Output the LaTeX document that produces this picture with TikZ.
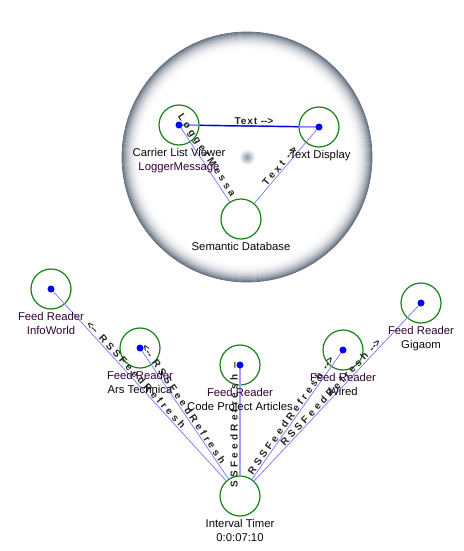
\documentclass[tikz,border=0pt]{standalone}
\usepackage{fontspec}
\setmainfont{Liberation Sans}
\newfontfamily\edgefont[LetterSpace=32]{Liberation Sans}
\newfontfamily\edgefonttight[LetterSpace=9]{Liberation Sans}

\definecolor{nodegreen}{RGB}{20,130,20}
\definecolor{dotblue}{RGB}{0,0,255}
\definecolor{edgeblue}{RGB}{130,130,255}
\definecolor{edgedark}{RGB}{0,0,210}
\definecolor{edgetext}{RGB}{35,35,35}
\definecolor{lblblack}{RGB}{10,5,15}
\definecolor{lblpurple}{RGB}{50,0,55}
\definecolor{ringdark}{RGB}{98,111,127}
\definecolor{hubgrey}{RGB}{140,152,166}

% blurred hub in the middle of the disc
\pgfdeclareradialshading{hubshade}{\pgfpoint{0bp}{0bp}}{%
  color(0bp)=(hubgrey); color(25bp)=(white); color(50bp)=(white)}

\newcommand{\arrR}{-\kern0pt-\kern0pt>}
\newcommand{\arrL}{<\kern0pt-\kern0pt-}

\tikzset{
  fnode/.style={circle, draw=nodegreen, line width=1.2pt, minimum size=40pt, inner sep=0pt},
  dotnode/.style={circle, fill=dotblue, minimum size=7pt, inner sep=0pt},
  ntext/.style={anchor=north, align=center, inner sep=0pt, text=lblblack,
    font=\fontsize{11.3}{14.5}\selectfont},
  edge/.style={draw=edgeblue, line width=0.8pt},
  thickedge/.style={draw=edgeblue!75!white, line width=2.4pt},
  darkedge/.style={draw=edgedark, line width=1.2pt},
  elabel/.style={sloped, above, inner sep=1pt, text=edgetext,
    font=\edgefont\bfseries\fontsize{10}{12}\selectfont},
  elabeltight/.style={sloped, above, inner sep=1pt, text=edgetext,
    font=\edgefonttight\bfseries\fontsize{10}{12}\selectfont},
}

\begin{document}
\begin{tikzpicture}[x=1pt, y=-1pt]
\useasboundingbox (0,0) rectangle (463,551);

% container disc: white face with a grey rim that darkens outwards
\fill[white] (247,157) circle (125pt);
\foreach \i in {0,...,40} {
  \pgfmathsetmacro\rr{105+\i*0.5}
  \pgfmathsetmacro\pp{100*(\i/40)^2.6}
  \draw[ringdark!\pp!white, line width=0.75pt] (247,157) circle (\rr pt);
}
\shade[shading=hubshade] (247,157) circle (8pt);

% nodes inside the disc
\node[fnode] (carrier) at (179,125) {};
\node[fnode] (textd) at (319,127) {};
\node[fnode] (semdb) at (241,219) {};

% feed readers and timer
\node[fnode] (info) at (51,289) {};
\node[fnode] (ars) at (140,348) {};
\node[fnode] (cproj) at (240,365) {};
\node[fnode] (wired) at (343,350) {};
\node[fnode] (gigaom) at (421,303) {};
\node[fnode] (timer) at (240,496) {};

% connectors inside the disc
\draw[edge, line width=1.6pt] (carrier.center) -- (textd.center);
\draw[darkedge] (carrier) -- (textd)
  node[elabeltight, pos=0.55] {Text \arrR};
\draw[edge] (carrier.center) -- (semdb)
  node[elabel, pos=0.44] {LoggerMessa};
\draw[edge] (textd.center) -- (semdb)
  node[elabel, pos=0.55] {Text \arrR};

% timer connectors
\draw[edge] (info.center) -- (timer)
  node[elabel, pos=0.465] {\arrL{} RSSFeedRefresh};
\draw[edge] (ars.center) -- (timer)
  node[elabel, pos=0.45] {\arrL{} RSSFeedRefresh};
\draw[thickedge] (timer) -- (cproj.center)
  node[elabel, pos=0.46] {SSFeedRefresh -\kern0pt-};
\draw[edge] (wired.center) -- (timer)
  node[elabel, pos=0.53] {RSSFeedRefresh \arrR};
\draw[edge] (gigaom.center) -- (timer)
  node[elabel, pos=0.52] {RSSFeedRefresh \arrR};

% centre markers
\node[dotnode] (carrierdot) at (carrier.center) {};
\node[dotnode] (textddot) at (textd.center) {};
\node[dotnode] (infodot) at (info.center) {};
\node[dotnode] (arsdot) at (ars.center) {};
\node[dotnode] (cprojdot) at (cproj.center) {};
\node[dotnode] (wireddot) at (wired.center) {};
\node[dotnode] (gigaomdot) at (gigaom.center) {};

% captions
\node[ntext] (carrierlbl) at (179,148) {Carrier List Viewer\\\textcolor{lblpurple}{LoggerMessage}};
\node[ntext] (textdlbl) at (320,150) {Text Display};
\node[ntext] (semdblbl) at (241,242) {Semantic Database};
\node[ntext] (infolbl) at (51,312) {\textcolor{lblpurple}{Feed Reader}\\\textcolor{lblpurple}{InfoWorld}};
\node[ntext] (arslbl) at (140,371) {\textcolor{lblpurple}{Feed Reader}\\Ars Technica};
\node[ntext] (cprojlbl) at (240,388) {\textcolor{lblpurple}{Feed Reader}\\Code Project Articles};
\node[ntext] (wiredlbl) at (343,373) {\textcolor{lblpurple}{Feed Reader}\\Wired};
\node[ntext] (gigaomlbl) at (421,326) {\textcolor{lblpurple}{Feed Reader}\\Gigaom};
\node[ntext] (timerlbl) at (240,519) {Interval Timer\\0:0:07:10};
\end{tikzpicture}
\end{document}
